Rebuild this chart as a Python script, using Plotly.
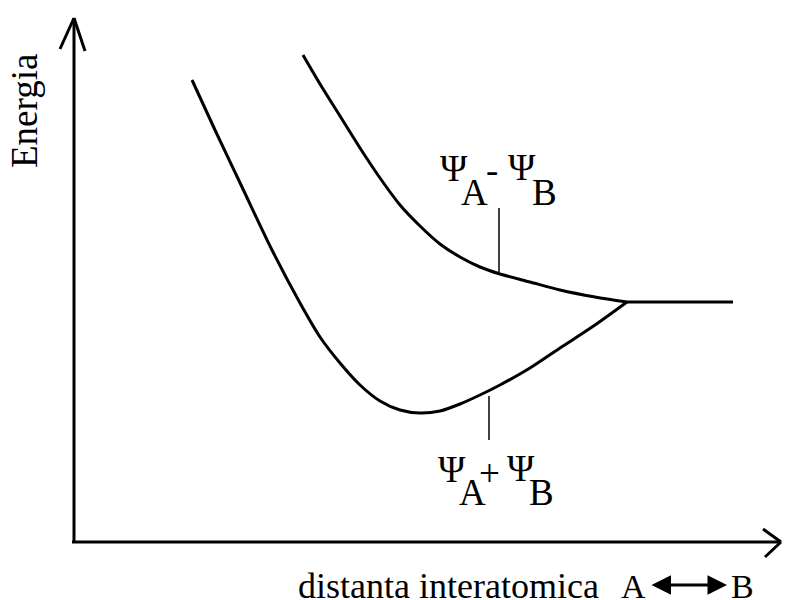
import plotly.graph_objects as go

# Bonding curve (Psi_A + Psi_B)
bond_x = [192, 215, 242, 272, 300, 320, 340, 360, 380, 400, 420, 440, 460, 480, 500, 530, 560, 595, 627]
bond_y = [80, 130, 187, 250, 303, 337, 363, 385, 401, 410, 413, 411, 404, 395, 385, 368, 348, 325, 302]

# Antibonding curve (Psi_A - Psi_B)
anti_x = [303, 320, 340, 360, 380, 400, 420, 440, 460, 480, 500, 530, 560, 595, 627]
anti_y = [55, 84, 116, 148, 178, 205, 226, 244, 257, 267, 274, 282, 290, 297, 302]

# Asymptote (separated atoms)
flat_x = [627, 733]
flat_y = [302, 302]

y_title = "Energia"
x_title = "distanta interatomica"
atom_a = "A"
atom_b = "B"

FONT = "Liberation Serif, Times New Roman, serif"
line_style = dict(color="black", width=3)
OFF = 8  # page body margin

fig = go.Figure()
for xs, ys in [(bond_x, bond_y), (anti_x, anti_y)]:
    fig.add_trace(go.Scatter(x=xs, y=ys, mode="lines",
                             line=dict(color="black", width=3, shape="spline", smoothing=0.8),
                             hoverinfo="skip"))
fig.add_trace(go.Scatter(x=flat_x, y=flat_y, mode="lines", line=line_style, hoverinfo="skip"))

shapes = [
    # axes
    dict(type="line", x0=74, y0=543, x1=74, y1=18, line=line_style),
    dict(type="line", x0=74, y0=18, x1=60, y1=49, line=line_style),
    dict(type="line", x0=74, y0=18, x1=85, y1=51, line=line_style),
    dict(type="line", x0=72, y0=542, x1=781, y1=542, line=line_style),
    dict(type="line", x0=781, y0=542, x1=763, y1=529, line=line_style),
    dict(type="line", x0=781, y0=542, x1=765, y1=557, line=line_style),
    # label ticks
    dict(type="line", x0=499, y0=208, x1=499, y1=272, line=dict(color="black", width=1.5)),
    dict(type="line", x0=489, y0=396, x1=489, y1=440, line=dict(color="black", width=1.5)),
]

def txt(s, x, y, size=37, **kw):
    return dict(text=s, x=x, y=y, xref="x", yref="y", showarrow=False,
                font=dict(family=FONT, size=size, color="black"),
                xanchor="center", yanchor="middle", **kw)

annotations = [
    txt("Ψ", 454, 168), txt(atom_a, 474, 192), txt("-", 492, 170), txt("Ψ", 522, 167), txt(atom_b, 544, 192),
    txt("Ψ", 452, 469), txt(atom_a, 472, 492), txt("+", 489, 473), txt("Ψ", 521, 468), txt(atom_b, 541, 492),
    txt(y_title, 24, 111, size=37, textangle=-90),
    dict(text=x_title, x=296, y=586, xref="x", yref="y", showarrow=False, xanchor="left", yanchor="middle",
         font=dict(family=FONT, size=36, color="black")),
    txt(atom_a, 633, 586, size=34),
    txt(atom_b, 742, 586, size=34),
    dict(text="", x=727, y=585, ax=650, ay=585, xref="x", yref="y", axref="x", ayref="y",
         showarrow=True, arrowhead=2, startarrowhead=2, arrowside="end+start", arrowsize=1.3,
         startarrowsize=1.3, arrowwidth=3, arrowcolor="black", standoff=0, startstandoff=0),
]

fig.update_layout(
    width=790, height=600,
    margin=dict(l=0, r=0, t=0, b=0),
    paper_bgcolor="white", plot_bgcolor="white",
    showlegend=False,
    xaxis=dict(range=[OFF, 790 + OFF], visible=False, fixedrange=True),
    yaxis=dict(range=[600 + OFF, OFF], visible=False, fixedrange=True),
    shapes=shapes,
    annotations=annotations,
)

fig.write_html("out.html")
